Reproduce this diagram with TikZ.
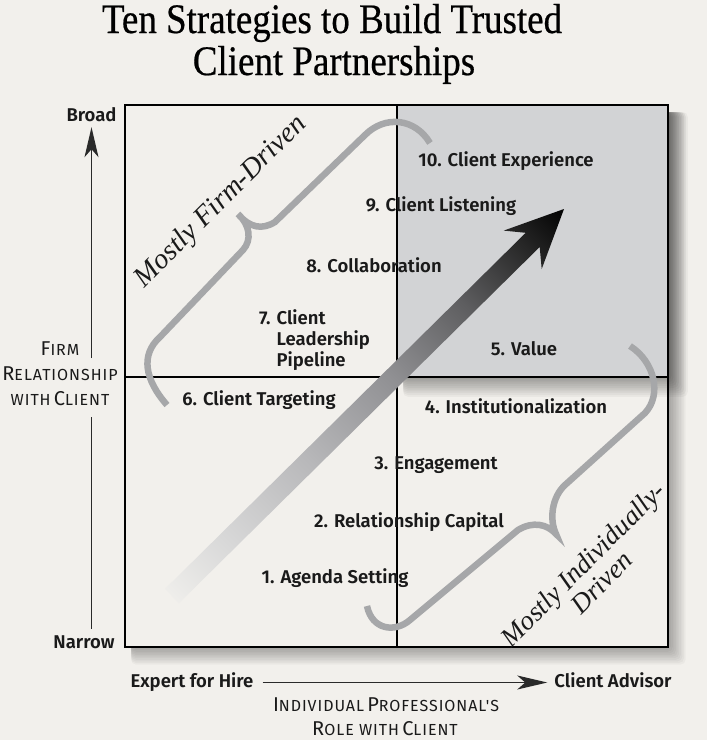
\documentclass[tikz,border=0pt]{standalone}
\usepackage{fontspec}
\setmainfont{Liberation Serif}
\newfontfamily\titlefont{Liberation Serif}[FakeStretch=0.88,FakeBold=0.5]
\newfontfamily\labfont{Fira Sans}[BoldFont={Fira Sans SemiBold}]
\newfontfamily\capsfont{Fira Sans}[LetterSpace=6]
\usetikzlibrary{arrows.meta}
\definecolor{bgc}{HTML}{F2F0EC}
\definecolor{quad}{HTML}{D2D3D5}
\definecolor{bracec}{HTML}{A6A7A9}
\definecolor{ink}{HTML}{1A1A1A}
\definecolor{axisc}{HTML}{2A2A2A}
\definecolor{shA}{HTML}{F0EFEC}
\definecolor{shB}{HTML}{D9D9D9}
\definecolor{shC}{HTML}{B8B8BA}
\definecolor{shD}{HTML}{909093}
\definecolor{shE}{HTML}{5E5E60}
\definecolor{shF}{HTML}{2A2A2A}
\definecolor{shG}{HTML}{050505}
\pgfdeclarehorizontalshading{arrowshade}{100bp}{color(0bp)=(shA); color(15bp)=(shA); color(25bp)=(shB); color(40bp)=(shC); color(55bp)=(shD); color(68bp)=(shE); color(78bp)=(shF); color(85bp)=(shG); color(100bp)=(shG)}
\newcommand\bigsc[1]{{\fontsize{20}{22}\selectfont #1}}
\newcommand\smsc[1]{{\fontsize{16}{22}\selectfont #1}}
\begin{document}
\begin{tikzpicture}[x=1pt,y=-1pt,
 strat/.style={font=\labfont\bfseries\fontsize{18.5}{20.5}\selectfont, text=ink, inner sep=0pt, anchor=base},
 axislab/.style={font=\labfont\bfseries\fontsize{18.5}{20}\selectfont, text=ink, inner sep=0pt, anchor=base, text height=13pt, text depth=4pt},
 capslab/.style={font=\capsfont, text=ink, inner sep=0pt, anchor=base},
 titletext/.style={font=\titlefont\fontsize{42}{42}\selectfont, text=black, inner sep=0pt, anchor=base},
 bracetext/.style={font=\itshape\fontsize{28.5}{27}\selectfont, text=ink, inner sep=0pt, rotate=45, align=center},
 bracestroke/.style={draw=bracec, line width=6.5pt},
 axisline/.style={draw=axisc, line width=1.3pt},
 axistip/.style={-{Stealth[length=30pt,width=14pt,inset=8pt]}},
 gridline/.style={draw=black, line width=1.6pt},
]
\useasboundingbox (0,0) rectangle (707,740);
\fill[bgc] (0,0) rectangle (707,740);

% title
\node[titletext] (title1) at (332,33) {Ten Strategies to Build Trusted};
\node[titletext] (title2) at (334,75) {Client Partnerships};

% shadow of main box
\foreach \k in {0,...,11}
  \fill[black, opacity=0.03, rounded corners=5pt] (131,112) rectangle ({668+1.6*\k},{647+1.6*\k});
\fill[bgc] (125,105) rectangle (668,647);

% shadow of top-right quadrant
\foreach \k in {0,...,11}
  \fill[black, opacity=0.035, rounded corners=5pt] (403,112) rectangle ({668+1.8*\k},{377+1.8*\k});
\fill[quad] (397,105) rectangle (668,377);

% grid
\draw[gridline] (397,105) -- (397,647);
\draw[gridline] (125,377) -- (668,377);
\draw[draw=black, line width=2pt] (125,105) rectangle (668,647);

% braces
\draw[bracestroke] (167,405) .. controls (145,380) and (140,355) .. (160,337) -- (243,250)
   .. controls (252,240) and (250,225) .. (238,214)
   .. controls (250,228) and (262,230) .. (275,222) -- (365,135)
   .. controls (385,115) and (415,118) .. (430,143);
\draw[bracestroke] (630,346) .. controls (655,362) and (662,395) .. (645,413) -- (565,485)
   .. controls (552,497) and (549,519) .. (556,534)
   .. controls (547,524) and (533,521) .. (518,530) -- (410,620)
   .. controls (395,633) and (372,630) .. (367,606);

% big shaded arrow
\shade[shading=arrowshade, shading angle=45]
  (165.0,588.9) -- (525.7,232.8) -- (503.7,230.6) -- (564,209) -- (541.7,269.0) -- (539.7,247.0) -- (179.0,603.1) -- cycle;

% strategy labels
\node[strat] (s10) at (506,166) {10. Client Experience};
\node[strat] (s9) at (441,211.5) {9. Client Listening};
\node[strat] (s8) at (374,272) {8. Collaboration};
\node[strat, anchor=base west] (s7) at (259,324) {\begin{tabular}[t]{@{}l@{}l@{}}7.\kern6pt&Client\\ &Leadership\\ &Pipeline\end{tabular}};
\node[strat] (s5) at (524,355) {5. Value};
\node[strat] (s6) at (259,405) {6. Client Targeting};
\node[strat] (s4) at (516,413) {4. Institutionalization};
\node[strat] (s3) at (436,469) {3. Engagement};
\node[strat] (s2) at (409,527) {2. Relationship Capital};
\node[strat] (s1) at (335,583) {1. Agenda Setting};

% brace texts
\node[bracetext] (firmdriven) at (221,202) {Mostly Firm-Driven};
\node[bracetext, font=\itshape\fontsize{27}{26}\selectfont] (inddriven) at (592,573) {Mostly Individually-\\Driven};

% vertical axis
\node[axislab] (broad) at (91.5,121) {Broad};
\node[axislab] (narrow) at (84,648) {Narrow};
\node[capslab] (firm1) at (60,355.5) {\bigsc{F}\smsc{IRM}};
\node[capslab] (firm2) at (60,380.5) {\bigsc{R}\smsc{ELATIONSHIP}};
\node[capslab] (firm3) at (60,405.5) {\smsc{WITH} \bigsc{C}\smsc{LIENT}};
\coordinate (vgaptop) at (91.5,358);
\coordinate (vgapbot) at (91.5,417);
\draw[axisline, axistip, shorten >=2pt] (vgaptop) -- (broad.south);
\draw[axisline, shorten >=6pt] (vgapbot) -- (vgapbot |- narrow.north);

% horizontal axis
\node[axislab] (hire) at (192,687) {Expert for Hire};
\node[axislab] (advisor) at (613,687) {Client Advisor};
\draw[axisline, axistip, shorten <=9pt, shorten >=7pt] (hire.east) -- (advisor.west);
\node[capslab] (role1) at (386,711.5) {\bigsc{I}\smsc{NDIVIDUAL} \bigsc{P}\smsc{ROFESSIONAL'S}};
\node[capslab] (role2) at (385,735) {\bigsc{R}\smsc{OLE WITH} \bigsc{C}\smsc{LIENT}};
\end{tikzpicture}
\end{document}
